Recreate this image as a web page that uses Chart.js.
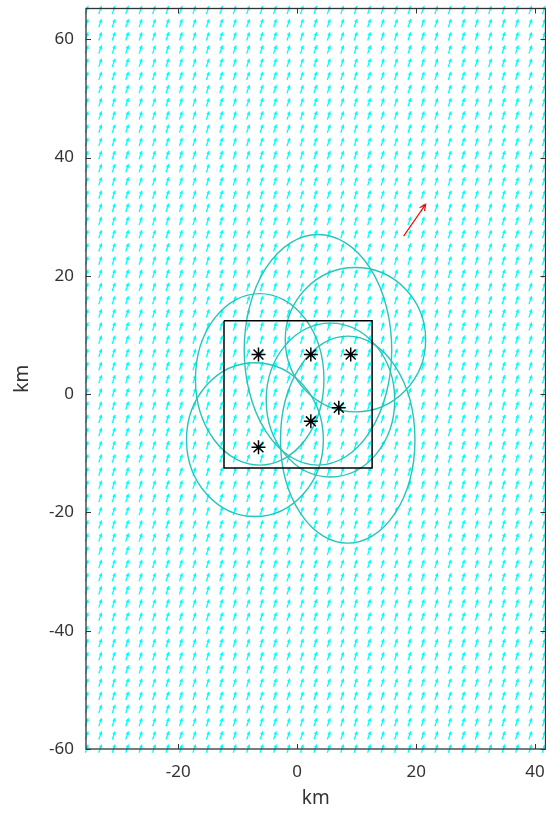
<!DOCTYPE html>
<html>
<head>
<meta charset="utf-8">
<script src="https://cdn.jsdelivr.net/npm/chart.js@4.4.1/dist/chart.umd.min.js"></script>
<style>
  html, body { margin: 0; padding: 0; background: #fff; overflow: hidden; }
  #wrap { width: 546px; height: 814px; overflow: hidden; }
</style>
</head>
<body>
<div id="wrap"><canvas id="my-chart" width="554" height="814"></canvas></div>
<script>
    // axis ticks (km)
    const xTickVals = [-20, 0, 20, 40];
    const yTickVals = [-60, -40, -20, 0, 20, 40, 60];

    // stations (asterisks)
    const stationX = [-6.5, 2.3, 9.0, 7.0, 2.3, -6.5];
    const stationY = [6.7, 6.7, 6.7, -2.3, -4.6, -9.0];

    // domain square
    const boxX = [-12.3, 12.6, 12.6, -12.3, -12.3];
    const boxY = [12.4, 12.4, -12.5, -12.5, 12.4];

    // ellipses: centre and half axes (km)
    const ellCx = [3.5, 9.8, -6.3, -7.1, 8.5, 5.6];
    const ellCy = [7.5, 9.2, 2.5, -7.7, -7.7, -1.0];
    const ellRx = [12.4, 11.8, 10.8, 11.5, 11.3, 10.8];
    const ellRy = [19.5, 12.2, 14.5, 13.0, 17.5, 13.0];

    // wind field grid (quiver) and its vector
    const gridX0 = -35.4, gridDx = 2.26, gridNx = 35;
    const gridY0 = -60, gridDy = 2.23, gridNy = 57;
    const windU = 0.42, windV = 1.25;

    // mean wind arrow (red)
    const meanFrom = [17.9, 26.7];
    const meanTo = [21.6, 32.1];

    const gridXs = [];
    for (let i = 0; i < gridNx; i++) gridXs.push(gridX0 + i * gridDx);
    const gridYs = [];
    for (let j = 0; j < gridNy; j++) gridYs.push(gridY0 + j * gridDy);

    function arrow(ctx, x1, y1, x2, y2, head) {
        const a = Math.atan2(y2 - y1, x2 - x1);
        ctx.beginPath();
        ctx.moveTo(x1, y1);
        ctx.lineTo(x2, y2);
        ctx.moveTo(x2 - head * Math.cos(a - 0.45), y2 - head * Math.sin(a - 0.45));
        ctx.lineTo(x2, y2);
        ctx.lineTo(x2 - head * Math.cos(a + 0.45), y2 - head * Math.sin(a + 0.45));
        ctx.stroke();
    }

    // quiver + ellipses under the datasets
    const underlay = {
        id: "underlay",
        beforeDatasetsDraw(chart) {
            const ctx = chart.ctx;
            const xs = chart.scales.x, ys = chart.scales.y;
            ctx.save();
            ctx.strokeStyle = "#00ffff";
            ctx.lineWidth = 1.3;
            for (const gx of gridXs) {
                for (const gy of gridYs) {
                    const x1 = xs.getPixelForValue(gx - windU / 2);
                    const y1 = ys.getPixelForValue(gy - windV / 2);
                    const x2 = xs.getPixelForValue(gx + windU / 2);
                    const y2 = ys.getPixelForValue(gy + windV / 2);
                    arrow(ctx, x1, y1, x2, y2, 2.8);
                }
            }
            ctx.strokeStyle = "rgb(40, 196, 184)";
            ctx.lineWidth = 1.4;
            for (let k = 0; k < ellCx.length; k++) {
                const cx = xs.getPixelForValue(ellCx[k]);
                const cy = ys.getPixelForValue(ellCy[k]);
                const rx = Math.abs(xs.getPixelForValue(ellCx[k] + ellRx[k]) - cx);
                const ry = Math.abs(ys.getPixelForValue(ellCy[k] + ellRy[k]) - cy);
                ctx.beginPath();
                ctx.ellipse(cx, cy, rx, ry, 0, 0, Math.PI * 2);
                ctx.stroke();
            }
            ctx.restore();
        },
        afterDatasetsDraw(chart) {
            const ctx = chart.ctx;
            const xs = chart.scales.x, ys = chart.scales.y;
            ctx.save();
            ctx.strokeStyle = "#ff0000";
            ctx.lineWidth = 1.2;
            arrow(ctx,
                xs.getPixelForValue(meanFrom[0]), ys.getPixelForValue(meanFrom[1]),
                xs.getPixelForValue(meanTo[0]), ys.getPixelForValue(meanTo[1]), 7);
            ctx.restore();
        },
        afterDraw(chart) {
            // box round the plot with inner ticks on all sides
            const ctx = chart.ctx;
            const a = chart.chartArea;
            const xs = chart.scales.x, ys = chart.scales.y;
            ctx.save();
            ctx.strokeStyle = "#333";
            ctx.lineWidth = 1.3;
            ctx.strokeRect(a.left, a.top, a.right - a.left, a.bottom - a.top);
            ctx.lineWidth = 1;
            ctx.beginPath();
            for (const v of xTickVals) {
                const px = Math.round(xs.getPixelForValue(v)) + 0.5;
                ctx.moveTo(px, a.bottom); ctx.lineTo(px, a.bottom - 5);
                ctx.moveTo(px, a.top); ctx.lineTo(px, a.top + 5);
            }
            for (const v of yTickVals) {
                const py = Math.round(ys.getPixelForValue(v)) + 0.5;
                ctx.moveTo(a.left, py); ctx.lineTo(a.left + 5, py);
                ctx.moveTo(a.right, py); ctx.lineTo(a.right - 5, py);
            }
            ctx.stroke();
            ctx.restore();
        },
    };

    const font = { family: "'Noto Sans', 'DejaVu Sans', sans-serif", size: 17 };

    const config = {
        type: "scatter",
        data: {
            datasets: [
                {
                    label: "domain",
                    data: boxX.map((x, i) => ({ x: x, y: boxY[i] })),
                    showLine: true,
                    borderColor: "#000",
                    borderWidth: 1.5,
                    pointRadius: 0,
                    fill: false,
                },
                {
                    label: "stations",
                    data: stationX.map((x, i) => ({ x: x, y: stationY[i] })),
                    pointStyle: "star",
                    pointRadius: 7,
                    borderColor: "#000",
                    borderWidth: 1.5,
                    backgroundColor: "#000",
                },
            ],
        },
        options: {
            responsive: false,
            animation: false,
            devicePixelRatio: 1,
            layout: { padding: { top: 7, right: 0, left: 0, bottom: 0 } },
            plugins: { legend: { display: false }, tooltip: { enabled: false } },
            scales: {
                x: {
                    type: "linear",
                    min: -35.5,
                    max: 41.75,
                    afterBuildTicks: (s) => { s.ticks = xTickVals.map((v) => ({ value: v })); },
                    afterFit: (s) => { s.height = 65; s.paddingLeft = 0; s.paddingRight = 0; },
                    grid: { drawOnChartArea: false, drawTicks: false },
                    border: { display: false },
                    ticks: { font: font, color: "#333", padding: 13, maxRotation: 0 },
                    title: { display: true, text: "km", font: { family: font.family, size: 19 }, color: "#333", padding: { top: 9 } },
                },
                y: {
                    type: "linear",
                    min: -60,
                    max: 65.2,
                    afterBuildTicks: (s) => { s.ticks = yTickVals.map((v) => ({ value: v })); },
                    afterFit: (s) => { s.width = 86; s.paddingTop = 0; s.paddingBottom = 0; },
                    grid: { drawOnChartArea: false, drawTicks: false },
                    border: { display: false },
                    ticks: { font: font, color: "#333", padding: 12 },
                    title: { display: true, text: "km", font: { family: font.family, size: 19 }, color: "#333", padding: { top: 11, bottom: 0 } },
                },
            },
        },
        plugins: [underlay],
    };

    const myChart = new Chart(document.getElementById("my-chart"), config);
</script>
</body>
</html>
